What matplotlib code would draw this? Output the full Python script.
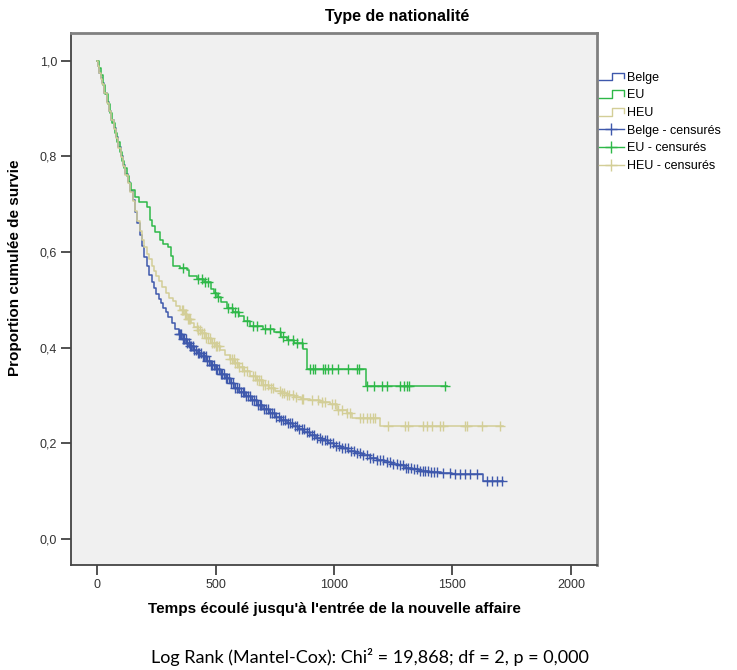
import numpy as np
import matplotlib
matplotlib.use("Agg")
import matplotlib.pyplot as plt
from matplotlib.legend_handler import HandlerBase
from matplotlib.lines import Line2D

plt.rcParams['font.family'] = ['Liberation Sans', 'DejaVu Sans']

# survival steps (time, cumulative survival)
belge_t = [0, 5, 10, 15, 20, 30, 40, 50, 60, 70,
           80, 90, 100, 110, 120, 130, 140, 150, 160, 170,
           180, 190, 200, 210, 220, 230, 240, 250, 260, 270,
           280, 290, 300, 315, 330, 345, 360, 375, 390, 405,
           420, 440, 460, 480, 500, 520, 540, 560, 580, 600,
           625, 650, 675, 700, 725, 750, 775, 800, 825, 850,
           875, 900, 925, 950, 975, 1000, 1030, 1060, 1090, 1120,
           1150, 1180, 1210, 1240, 1270, 1300, 1330, 1360, 1400, 1450,
           1500, 1630]
belge_s = [1.0, 0.99, 0.975, 0.963, 0.953, 0.933, 0.913, 0.895, 0.877, 0.86,
           0.84, 0.82, 0.80, 0.782, 0.764, 0.746, 0.728, 0.708, 0.684, 0.66,
           0.635, 0.612, 0.59, 0.57, 0.552, 0.537, 0.524, 0.513, 0.503, 0.494,
           0.484, 0.474, 0.465, 0.452, 0.44, 0.429, 0.418, 0.41, 0.403, 0.396,
           0.39, 0.382, 0.373, 0.364, 0.355, 0.345, 0.336, 0.327, 0.317, 0.308,
           0.299, 0.29, 0.281, 0.272, 0.264, 0.256, 0.249, 0.243, 0.237, 0.231,
           0.224, 0.218, 0.212, 0.207, 0.201, 0.195, 0.19, 0.185, 0.18, 0.175,
           0.17, 0.166, 0.162, 0.158, 0.154, 0.149, 0.146, 0.143, 0.14, 0.138,
           0.137, 0.122]
belge_end = 1713

eu_t = [0, 8, 15, 25, 35, 45, 55, 65, 75, 85,
        95, 105, 115, 125, 135, 145, 160, 175, 210, 222,
        232, 245, 265, 280, 300, 310, 320, 350, 380, 390,
        420, 450, 480, 495, 505, 525, 550, 575, 600, 620,
        645, 700, 745, 775, 800, 830, 870, 885, 1135]
eu_s = [1.0, 0.985, 0.97, 0.95, 0.93, 0.91, 0.89, 0.87, 0.85, 0.83,
        0.81, 0.79, 0.775, 0.76, 0.745, 0.73, 0.715, 0.705, 0.695, 0.668,
        0.655, 0.643, 0.626, 0.616, 0.61, 0.592, 0.572, 0.567, 0.562, 0.55,
        0.543, 0.537, 0.522, 0.514, 0.507, 0.495, 0.484, 0.475, 0.466, 0.455,
        0.445, 0.44, 0.432, 0.422, 0.416, 0.41, 0.397, 0.355, 0.321]
eu_end = 1477

heu_t = [0, 5, 10, 15, 20, 30, 40, 50, 60, 70,
         80, 90, 100, 110, 120, 130, 140, 150, 160, 170,
         180, 190, 200, 210, 220, 230, 240, 250, 260, 275,
         290, 305, 320, 335, 350, 365, 380, 395, 410, 425,
         440, 460, 480, 500, 520, 540, 560, 580, 600, 620,
         645, 670, 700, 725, 750, 775, 800, 830, 860, 900,
         940, 985, 1013, 1055, 1076, 1194]
heu_s = [1.0, 0.99, 0.975, 0.962, 0.952, 0.932, 0.912, 0.894, 0.876, 0.858,
         0.838, 0.818, 0.798, 0.78, 0.762, 0.744, 0.726, 0.706, 0.686, 0.666,
         0.645, 0.625, 0.61, 0.597, 0.585, 0.572, 0.56, 0.55, 0.54, 0.527,
         0.515, 0.505, 0.497, 0.487, 0.48, 0.47, 0.46, 0.452, 0.444, 0.438,
         0.43, 0.42, 0.41, 0.403, 0.395, 0.385, 0.376, 0.368, 0.36, 0.352,
         0.342, 0.333, 0.323, 0.316, 0.31, 0.305, 0.301, 0.298, 0.294, 0.29,
         0.286, 0.282, 0.271, 0.264, 0.254, 0.236]
heu_end = 1713

# censored observations (times)
belge_cens = [345, 350, 356, 362, 368, 374, 380, 386, 392, 398,
              404, 410, 417, 424, 431, 438, 445, 452, 459, 466,
              473, 480, 487, 494, 501, 508, 515, 522, 529, 536,
              543, 550, 558, 566, 574, 582, 590, 598, 606, 614,
              622, 630, 638, 646, 654, 662, 670, 678, 686, 694,
              703, 712, 721, 730, 739, 748, 757, 766, 775, 784,
              794, 804, 814, 824, 834, 844, 854, 864, 874, 884,
              895, 906, 917, 928, 939, 950, 961, 972, 984, 996,
              1008, 1020, 1032, 1045, 1058, 1071, 1084, 1097, 1110, 1124,
              1138, 1152, 1166, 1180, 1194, 1208, 1222, 1236, 1250, 1264,
              1278, 1290, 1302, 1314, 1326, 1338, 1350, 1362, 1374, 1386,
              1398, 1410, 1422, 1434, 1460, 1489, 1511, 1532, 1553, 1574,
              1603, 1646, 1667, 1688, 1709]
eu_cens = [364, 426, 443, 456, 468, 498, 511, 553, 570, 582, 595, 633, 658, 675, 709, 730, 772,
           785, 806, 827, 844, 865, 899, 911, 920, 954, 962, 975, 992, 1017, 1059, 1097, 1105,
           1139, 1169, 1203, 1224, 1278, 1295, 1308, 1316, 1468]
heu_cens = [359, 364, 370, 376, 382, 388, 394, 420, 428, 436, 444, 452, 460, 468, 476, 484, 492,
            500, 508, 516, 561, 568, 576, 584, 592, 600, 610, 620, 633, 658, 666, 674, 682, 690,
            700, 710, 720, 732, 743, 770, 780, 790, 800, 812, 825, 840, 865, 869, 907, 932, 949,
            962, 992, 1004, 1017, 1034, 1055, 1068, 1110, 1122, 1139, 1152, 1165, 1173, 1228,
            1300, 1312, 1376, 1392, 1414, 1447, 1460, 1553, 1561, 1624, 1700]

names = ['Belge', 'EU', 'HEU']
colors = ['#3E58AC', '#2EB848', '#D3CE97']


def surv_at(times, surv, c):
    idx = np.searchsorted(times, c, side='right') - 1
    return np.asarray(surv)[idx]


class StepHandler(HandlerBase):
    def create_artists(self, legend, orig_handle, xdescent, ydescent, width, height, fontsize, trans):
        x0, x1 = -xdescent, -xdescent + width
        xm = x0 + width * 0.55
        y0, y1 = -ydescent + height * 0.05, -ydescent + height * 0.95
        ln = Line2D([x0, xm, xm, x1, x1], [y0, y0, y1, y1, y0 + height * 0.25],
                    color=orig_handle.get_color(), lw=1.0, transform=trans)
        return [ln]


fig = plt.figure(figsize=(7.37, 6.70), dpi=100)
ax = fig.add_axes([71 / 737, 105 / 670, 526 / 737, 532 / 670])
ax.set_facecolor('#F0F0F0')

series = [(belge_t, belge_s, belge_end, belge_cens),
          (eu_t, eu_s, eu_end, eu_cens),
          (heu_t, heu_s, heu_end, heu_cens)]

step_handles = []
cens_handles = []
for (t, s, end, cens), name, col in zip(series, names, colors):
    h, = ax.step(t + [end], s + [s[-1]], where='post', color=col, lw=1.1, label=name)
    step_handles.append(h)
    cy = surv_at(t, s, cens)
    ax.plot(cens, cy, ls='none', marker='+', ms=7, mew=1.0, color=col)
    cens_handles.append(Line2D([], [], color=col, lw=1.0, marker='+', ms=9, mew=1.0))

ax.set_xlim(-110, 2110)
ax.set_ylim(-0.054, 1.058)
ax.set_xticks([0, 500, 1000, 1500, 2000])
ax.set_yticks([0, 0.2, 0.4, 0.6, 0.8, 1.0])
ax.set_yticklabels(['0,0', '0,2', '0,4', '0,6', '0,8', '1,0'])
ax.tick_params(direction='out', length=7, width=1.2, colors='#333333', labelsize=9, pad=3)

for side in ['left', 'bottom']:
    ax.spines[side].set_color('#444444')
    ax.spines[side].set_linewidth(1.3)
for side in ['top', 'right']:
    ax.spines[side].set_color('#808080')
    ax.spines[side].set_linewidth(2.0)

ax.set_ylabel('Proportion cumulée de survie', fontsize=11, fontweight='bold')
ax.yaxis.set_label_coords(-0.094, 0.558)
ax.set_xlabel("Temps écoulé jusqu'à l'entrée de la nouvelle affaire", fontsize=11, fontweight='bold')
ax.xaxis.set_label_coords(0.5, -0.07)

fig.text(397 / 737, 1 - 17 / 670, 'Type de nationalité', ha='center', va='center',
         fontsize=11.5, fontweight='bold')

leg_labels = names + [n + ' - censurés' for n in names]
ax.legend(step_handles + cens_handles, leg_labels,
          handler_map={h: StepHandler() for h in step_handles},
          loc='upper left', bbox_to_anchor=(1.003, 0.927), frameon=False, fontsize=9,
          handlelength=2.0, handletextpad=0.3, labelspacing=0.45, borderaxespad=0,
          borderpad=0)

fig.text(370 / 737, 1 - 657 / 670, 'Log Rank (Mantel-Cox): Chi² = 19,868; df = 2, p = 0,000',
         ha='center', va='center', fontsize=13, family=['Lato', 'DejaVu Sans'])

fig.savefig('out.png', dpi=100)
